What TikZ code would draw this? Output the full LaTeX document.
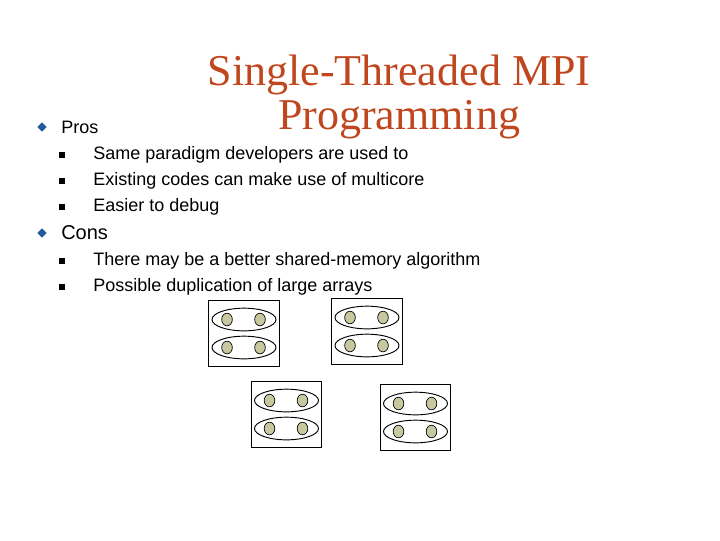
\documentclass[tikz,border=0pt]{standalone}
\usepackage{fontspec}
\setmainfont{Liberation Sans}
\newfontfamily\seriff{Liberation Serif}
\usetikzlibrary{shapes.geometric}
\definecolor{ttl}{HTML}{C0461E}
\definecolor{blt}{HTML}{1F5C99}
\definecolor{dotc}{HTML}{C8C8A0}
\tikzset{
 dia/.style={diamond,fill=blt,inner sep=0pt,minimum size=7pt},
 sq/.style={rectangle,fill=black,inner sep=0pt,minimum size=4.5pt},
 txt/.style={anchor=west,inner sep=0pt,font=\fontsize{13.5}{16}\selectfont},
 box/.style={draw,line width=0.8pt,minimum width=53pt,minimum height=50pt,inner sep=0pt},
 ell/.style={ellipse,draw,line width=0.7pt,minimum width=48pt,minimum height=17pt,inner sep=0pt},
 dot/.style={ellipse,draw,fill=dotc,line width=0.5pt,minimum width=8pt,minimum height=9.5pt,inner sep=0pt}
}
\begin{document}
\begin{tikzpicture}[x=0.75pt,y=-0.75pt]
\useasboundingbox (0,0) rectangle (720,540);
\node[font=\seriff\fontsize{33}{33}\selectfont,text=ttl,align=center] (title) at (399,97) {Single-Threaded MPI\\Programming};
\node[dia] (b1) at (42,127) {};
\node[txt,font=\fontsize{13.5}{16}\selectfont] (pros) at (61,127) {Pros};
\node[sq] (s1) at (62,155) {}; \node[txt] (t1) at (93,155) {Same paradigm developers are used to};
\node[sq] (s2) at (62,181) {}; \node[txt] (t2) at (93,181) {Existing codes can make use of multicore};
\node[sq] (s3) at (62,207) {}; \node[txt] (t3) at (93,207) {Easier to debug};
\node[dia] (b2) at (42,233) {};
\node[txt,font=\fontsize{15}{18}\selectfont] (cons) at (61,233) {Cons};
\node[sq] (s4) at (62,261) {}; \node[txt] (t4) at (93,261) {There may be a better shared-memory algorithm};
\node[sq] (s5) at (62,287) {}; \node[txt] (t5) at (93,287) {Possible duplication of large arrays};
\foreach \n/\x/\y in {A/244/333.5,B/367/331.5,C/286.5/414.5,D/415.5/417.5}{
 \node[box] (box\n) at (\x,\y) {};
 \node[ell] (e\n1) at (\x,\y-14) {};
 \node[ell] (e\n2) at (\x,\y+14) {};
 \node[dot] (d\n1) at (\x-17,\y-14) {};
 \node[dot] (d\n2) at (\x+16,\y-14) {};
 \node[dot] (d\n3) at (\x-17,\y+14) {};
 \node[dot] (d\n4) at (\x+16,\y+14) {};
}
\end{tikzpicture}
\end{document}
